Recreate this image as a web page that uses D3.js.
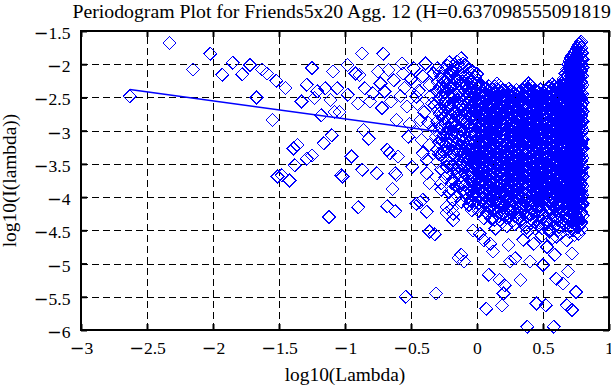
<!DOCTYPE html>
<html>
<head>
<meta charset="utf-8">
<script src="https://cdn.jsdelivr.net/npm/d3@7"></script>
<style>
  html, body { margin: 0; padding: 0; background: #fff; }
  svg { display: block; }
  text { font-family: "Liberation Serif", "Times New Roman", serif; fill: #000; }
</style>
</head>
<body>
<div id="chart"></div>
<script>
// axis ticks
var xTicks = [-3, -2.5, -2, -1.5, -1, -0.5, 0, 0.5, 1];
var yTicks = [-6, -5.5, -5, -4.5, -4, -3.5, -3, -2.5, -2, -1.5];

// least squares fit line (log10 lambda, log10 I)
var fitX = [-2.63, -0.2];
var fitY = [-2.38, -3.04];

// sparse periodogram points [log10(lambda), log10(I)]
var sparsePts = [
  [-2.63,-2.48],[-2.33,-1.68],[-2.15,-2.08],[-2.02,-1.84],[-1.93,-2.16],[-1.85,-1.98],
  [-1.78,-2.15],[-1.72,-2.01],[-1.67,-2.50],[-1.63,-2.08],[-1.59,-2.14],[-1.55,-2.84],
  [-1.52,-2.25],[-1.51,-3.69],[-1.45,-2.36],[-1.39,-3.27],[-1.36,-3.22],[-1.38,-3.52],
  [-1.29,-3.42],[-1.25,-3.37],[-1.48,-3.67],[-1.42,-3.75],[-1.33,-2.56],[-1.29,-2.31],
  [-1.25,-2.06],[-1.21,-2.41],[-1.18,-2.77],[-1.16,-3.19],[-1.23,-2.51],[-1.15,-2.36],
  [-1.11,-2.54],[-1.09,-2.11],[-1.06,-2.36],[-1.10,-3.07],[-1.08,-2.72],[-1.04,-2.72],
  [-1.03,-3.67],[-1.12,-4.30],[-1.02,-3.69],[-0.98,-2.01],[-0.98,-2.46],[-0.92,-2.14],
  [-0.95,-3.39],[-0.89,-2.16],[-0.90,-2.59],[-0.87,-1.84],[-0.85,-2.36],[-0.86,-2.99],
  [-0.82,-3.12],[-0.81,-2.56],[-0.79,-2.44],[-0.87,-3.59],[-0.90,-4.15],[-0.75,-2.11],
  [-0.71,-1.84],[-0.73,-2.29],[-0.72,-2.66],[-0.70,-2.41],[-0.76,-3.64],[-0.68,-3.29],
  [-0.66,-3.34],[-0.67,-2.09],[-0.63,-2.24],[-0.65,-2.56],[-0.61,-2.84],[-0.60,-3.39],
  [-0.62,-3.64],[-0.64,-3.88],[-0.61,-3.67],[-0.68,-4.14],[-0.62,-4.21],[-0.57,-1.99],
  [-0.56,-2.14],[-0.55,-2.36],[-0.53,-2.64],[-0.52,-3.09],[-0.49,-3.54],[-0.48,-2.06],
  [-0.47,-2.29],[-0.46,-2.49],[-0.43,-2.84],[-0.42,-3.14],[-0.41,-3.34],[-0.39,-1.99],
  [-0.38,-3.44],[-0.38,-3.64],[-0.33,-2.14],[-0.34,-2.59],[-0.31,-3.09],[-0.28,-2.34],
  [-0.27,-2.72],[-0.24,-3.29],[-0.23,-3.54],[-0.19,-2.16],[-0.18,-2.49],[-0.17,-2.94],
  [-0.15,-3.64],[-0.50,-2.22],[-0.44,-2.40],[-0.41,-2.18],[-0.36,-2.31],[-0.35,-2.47],
  [-0.32,-2.62],[-0.40,-2.72],[-0.45,-2.60],[-0.58,-2.48],[-0.51,-2.90],[-0.37,-2.88],
  [-0.33,-2.96],[-0.36,-3.22],[-0.29,-3.35],[-0.46,-3.02],
  [-0.54,-5.50],[-0.46,-4.10],[-0.41,-4.04],[-0.43,-4.08],[-0.38,-4.22],[-0.36,-3.79],
  [-0.27,-3.89],[-0.36,-4.52],[-0.32,-4.56],[-0.31,-5.45],[-0.23,-4.24],[-0.19,-4.17],
  [-0.18,-4.35],[-0.14,-4.92],[-0.19,-3.79],[-0.12,-4.87],[-0.10,-4.97],[-0.23,-4.15],
  [-0.18,-4.25],[-0.19,-3.89],[-0.08,-3.94],[-0.04,-4.20],[-0.27,-3.79],[-0.03,-4.50],
  [0.02,-4.55],[0.05,-4.65],[0.10,-4.70],[0.14,-4.47],[0.11,-4.32],[0.05,-4.32],
  [0.09,-5.17],[0.17,-5.25],[0.21,-5.33],[0.20,-5.45],[0.33,-5.25],[0.07,-5.68],
  [0.19,-5.63],[0.38,-5.95],[0.58,-5.95],[0.45,-5.60],[0.52,-5.63],[0.60,-5.23],
  [0.65,-5.30],[0.69,-5.12],[0.75,-5.43],[0.68,-5.63],[0.72,-5.70],[0.59,-4.87],
  [0.72,-4.85],[0.50,-5.02],[0.40,-4.97],[0.29,-4.92],[0.24,-4.72],[0.12,-4.82],
  [0.25,-4.97],[0.35,-4.64],[0.43,-4.70],[0.53,-4.75],[0.60,-4.60],[0.68,-4.65],
  [0.74,-4.57],[0.78,-4.35],[0.80,-4.10],
  [0.22,-4.28],[0.27,-4.36],[0.31,-4.31],[0.36,-4.42],[0.41,-4.33],[0.44,-4.47],
  [0.47,-4.38],[0.52,-4.41],[0.55,-4.52],[0.58,-4.37],[0.62,-4.45],[0.66,-4.40],
  [0.70,-4.52],[0.73,-4.46],[0.77,-4.55],[0.79,-4.48],[0.63,-4.55],[0.49,-4.58],
  [0.38,-4.52],[0.57,-4.62],[0.15,-4.25],[0.19,-4.38]
];

// dense part of the periodogram, one list of log10(I) per log10(lambda) column
var denseX = [-0.30, -0.27, -0.24, -0.21, -0.18, -0.15, -0.12, -0.09, -0.06, -0.03, 0.00,
  0.03, 0.06, 0.09, 0.12, 0.15, 0.18, 0.21, 0.24, 0.27, 0.30, 0.33, 0.36, 0.39, 0.42,
  0.45, 0.48, 0.51, 0.54, 0.57, 0.60, 0.63, 0.655, 0.68, 0.70, 0.72, 0.74, 0.76, 0.775, 0.79, 0.80];
var denseY = [
  [-2.06,-2.27,-2.41,-2.57,-2.69,-2.86,-3.02,-3.28,-3.47],
  [-2.19,-2.33,-2.48,-2.64,-2.77,-2.94,-3.13,-3.36,-3.58],
  [-2.09,-2.26,-2.44,-2.55,-2.71,-2.89,-3.04,-3.21,-3.43,-3.71],
  [-1.97,-2.16,-2.35,-2.49,-2.62,-2.81,-2.97,-3.11,-3.27,-3.49,-3.66,-3.93],
  [-2.03,-2.12,-2.31,-2.46,-2.58,-2.73,-2.86,-3.01,-3.16,-3.33,-3.52,-3.74,-4.04],
  [-1.96,-2.09,-2.24,-2.39,-2.53,-2.66,-2.77,-2.92,-3.06,-3.19,-3.35,-3.47,-3.61,-3.83,-3.98],
  [-1.91,-2.05,-2.19,-2.33,-2.47,-2.60,-2.71,-2.84,-2.97,-3.09,-3.23,-3.38,-3.50,-3.68,-3.79,-4.07],
  [-2.01,-2.14,-2.29,-2.41,-2.52,-2.65,-2.79,-2.90,-3.03,-3.14,-3.27,-3.41,-3.55,-3.64,-3.82,-3.95],
  [-2.07,-2.21,-2.34,-2.45,-2.57,-2.70,-2.82,-2.93,-3.07,-3.18,-3.31,-3.44,-3.58,-3.71,-3.87,-4.12],
  [-2.11,-2.23,-2.37,-2.50,-2.61,-2.74,-2.85,-2.98,-3.10,-3.22,-3.34,-3.46,-3.57,-3.69,-3.84,-3.97],
  [-2.15,-2.28,-2.40,-2.53,-2.64,-2.76,-2.88,-3.00,-3.12,-3.24,-3.35,-3.48,-3.60,-3.73,-3.85,-3.99,-4.16],
  [-2.31,-2.42,-2.50,-2.57,-2.68,-2.74,-2.83,-2.92,-2.98,-3.08,-3.16,-3.23,-3.33,-3.41,-3.48,-3.58,-3.65,-3.76,-3.84,-3.93,-4.05],
  [-2.36,-2.45,-2.52,-2.62,-2.71,-2.78,-2.87,-2.95,-3.04,-3.12,-3.19,-3.29,-3.36,-3.46,-3.53,-3.63,-3.70,-3.80,-3.87,-3.98,-4.10],
  [-2.33,-2.40,-2.51,-2.58,-2.67,-2.76,-2.83,-2.92,-3.01,-3.08,-3.18,-3.25,-3.34,-3.43,-3.50,-3.60,-3.67,-3.76,-3.85,-3.94,-4.03,-4.15],
  [-2.38,-2.47,-2.54,-2.64,-2.71,-2.81,-2.88,-2.97,-3.06,-3.13,-3.22,-3.31,-3.38,-3.48,-3.55,-3.64,-3.73,-3.81,-3.91,-3.99,-4.08],
  [-2.29,-2.38,-2.48,-2.55,-2.65,-2.72,-2.82,-2.89,-2.99,-3.06,-3.16,-3.23,-3.33,-3.40,-3.50,-3.57,-3.67,-3.74,-3.84,-3.91,-4.02,-4.13],
  [-2.35,-2.44,-2.51,-2.61,-2.68,-2.78,-2.85,-2.95,-3.02,-3.12,-3.19,-3.29,-3.36,-3.45,-3.53,-3.62,-3.70,-3.79,-3.87,-3.96,-4.06,-4.19],
  [-2.40,-2.47,-2.57,-2.64,-2.74,-2.81,-2.91,-2.98,-3.08,-3.15,-3.25,-3.32,-3.42,-3.49,-3.59,-3.66,-3.76,-3.83,-3.93,-4.01,-4.11],
  [-2.37,-2.46,-2.53,-2.63,-2.70,-2.80,-2.87,-2.97,-3.04,-3.14,-3.21,-3.31,-3.38,-3.48,-3.55,-3.65,-3.72,-3.82,-3.89,-3.99,-4.07,-4.18],
  [-2.42,-2.50,-2.59,-2.67,-2.76,-2.84,-2.93,-3.01,-3.10,-3.18,-3.27,-3.35,-3.44,-3.52,-3.61,-3.69,-3.78,-3.86,-3.95,-4.04,-4.14],
  [-2.39,-2.48,-2.55,-2.65,-2.72,-2.82,-2.89,-2.99,-3.06,-3.16,-3.23,-3.33,-3.40,-3.50,-3.57,-3.67,-3.74,-3.84,-3.91,-4.01,-4.09,-4.21],
  [-2.41,-2.49,-2.58,-2.66,-2.75,-2.83,-2.92,-3.00,-3.09,-3.17,-3.26,-3.34,-3.43,-3.51,-3.60,-3.68,-3.77,-3.85,-3.94,-4.03,-4.13,-4.24],
  [-2.34,-2.43,-2.51,-2.60,-2.68,-2.77,-2.85,-2.94,-3.02,-3.11,-3.19,-3.28,-3.36,-3.45,-3.53,-3.62,-3.70,-3.79,-3.87,-3.96,-4.05,-4.16],
  [-2.29,-2.38,-2.46,-2.55,-2.63,-2.72,-2.80,-2.89,-2.97,-3.06,-3.14,-3.23,-3.31,-3.40,-3.48,-3.57,-3.65,-3.74,-3.82,-3.91,-4.00,-4.10,-4.22],
  [-2.36,-2.44,-2.53,-2.61,-2.70,-2.78,-2.87,-2.95,-3.04,-3.12,-3.21,-3.29,-3.38,-3.46,-3.55,-3.63,-3.72,-3.80,-3.89,-3.97,-4.07,-4.19],
  [-2.40,-2.48,-2.57,-2.65,-2.74,-2.82,-2.91,-2.99,-3.08,-3.16,-3.25,-3.33,-3.42,-3.50,-3.59,-3.67,-3.76,-3.84,-3.93,-4.02,-4.12,-4.25],
  [-2.38,-2.47,-2.55,-2.64,-2.72,-2.81,-2.89,-2.98,-3.06,-3.15,-3.23,-3.32,-3.40,-3.49,-3.57,-3.66,-3.74,-3.83,-3.91,-4.00,-4.09,-4.20],
  [-2.43,-2.51,-2.60,-2.68,-2.77,-2.85,-2.94,-3.02,-3.11,-3.19,-3.28,-3.36,-3.45,-3.53,-3.62,-3.70,-3.79,-3.87,-3.96,-4.05,-4.15,-4.27],
  [-2.35,-2.44,-2.52,-2.61,-2.69,-2.78,-2.86,-2.95,-3.03,-3.12,-3.20,-3.29,-3.37,-3.46,-3.54,-3.63,-3.71,-3.80,-3.88,-3.97,-4.06,-4.17],
  [-2.30,-2.39,-2.47,-2.56,-2.64,-2.73,-2.81,-2.90,-2.98,-3.07,-3.15,-3.24,-3.32,-3.41,-3.49,-3.58,-3.66,-3.75,-3.83,-3.92,-4.01,-4.11,-4.23],
  [-2.37,-2.45,-2.54,-2.62,-2.71,-2.79,-2.88,-2.96,-3.05,-3.13,-3.22,-3.30,-3.39,-3.47,-3.56,-3.64,-3.73,-3.81,-3.90,-3.98,-4.08,-4.19,-4.30],
  [-2.33,-2.42,-2.50,-2.59,-2.67,-2.76,-2.84,-2.93,-3.01,-3.10,-3.18,-3.27,-3.35,-3.44,-3.52,-3.61,-3.69,-3.78,-3.86,-3.95,-4.04,-4.14,-4.26],
  [-2.22,-2.31,-2.39,-2.48,-2.56,-2.65,-2.73,-2.82,-2.90,-2.99,-3.07,-3.16,-3.24,-3.33,-3.41,-3.50,-3.58,-3.67,-3.75,-3.84,-3.93,-4.02,-4.12,-4.24],
  [-2.08,-2.17,-2.25,-2.34,-2.42,-2.51,-2.59,-2.68,-2.76,-2.85,-2.93,-3.02,-3.10,-3.19,-3.27,-3.36,-3.44,-3.53,-3.61,-3.70,-3.78,-3.87,-3.96,-4.06,-4.17,-4.31],
  [-1.95,-2.04,-2.12,-2.21,-2.29,-2.38,-2.46,-2.55,-2.63,-2.72,-2.80,-2.89,-2.97,-3.06,-3.14,-3.23,-3.31,-3.40,-3.48,-3.57,-3.65,-3.74,-3.83,-3.92,-4.01,-4.11,-4.22,-4.35],
  [-1.87,-1.96,-2.04,-2.13,-2.21,-2.30,-2.38,-2.47,-2.55,-2.64,-2.72,-2.81,-2.89,-2.98,-3.06,-3.15,-3.23,-3.32,-3.40,-3.49,-3.57,-3.66,-3.74,-3.83,-3.92,-4.02,-4.13,-4.25,-4.38],
  [-1.82,-1.90,-1.99,-2.07,-2.16,-2.24,-2.33,-2.41,-2.50,-2.58,-2.67,-2.75,-2.84,-2.92,-3.01,-3.09,-3.18,-3.26,-3.35,-3.43,-3.52,-3.60,-3.69,-3.77,-3.86,-3.95,-4.05,-4.16,-4.28,-4.40],
  [-1.76,-1.85,-1.93,-2.02,-2.10,-2.19,-2.27,-2.36,-2.44,-2.53,-2.61,-2.70,-2.78,-2.87,-2.95,-3.04,-3.12,-3.21,-3.29,-3.38,-3.46,-3.55,-3.63,-3.72,-3.81,-3.90,-3.99,-4.09,-4.20,-4.33],
  [-1.70,-1.79,-1.87,-1.96,-2.04,-2.13,-2.21,-2.30,-2.38,-2.47,-2.55,-2.64,-2.72,-2.81,-2.89,-2.98,-3.06,-3.15,-3.23,-3.32,-3.40,-3.49,-3.57,-3.66,-3.75,-3.84,-3.93,-4.03,-4.14,-4.27,-4.42],
  [-1.66,-1.75,-1.83,-1.92,-2.00,-2.09,-2.17,-2.26,-2.34,-2.43,-2.51,-2.60,-2.68,-2.77,-2.85,-2.94,-3.02,-3.11,-3.19,-3.28,-3.36,-3.45,-3.53,-3.62,-3.71,-3.80,-3.89,-3.99,-4.10,-4.23,-4.38],
  [-1.83,-1.93,-2.05,-2.18,-2.31,-2.45,-2.58,-2.71,-2.86,-2.99,-3.13,-3.27,-3.41,-3.55,-3.69,-3.83,-3.97,-4.12,-4.28]
];

// in-between columns of the dense part
var denseX2 = [-0.285, -0.255, -0.225, -0.195, -0.165, -0.135, -0.105, -0.075, -0.045, -0.015,
  0.015, 0.045, 0.075, 0.105, 0.135, 0.165, 0.195, 0.225, 0.255, 0.285, 0.315, 0.345, 0.375,
  0.405, 0.435, 0.465, 0.495, 0.525, 0.555, 0.585, 0.615, 0.645, 0.67, 0.69, 0.71, 0.73, 0.75, 0.765, 0.785];
var denseY2 = [
  [-2.13,-2.36,-2.52,-2.75,-2.93,-3.18],
  [-2.24,-2.39,-2.60,-2.82,-3.07,-3.31],
  [-2.02,-2.21,-2.38,-2.66,-2.84,-3.15,-3.55],
  [-2.10,-2.29,-2.43,-2.68,-2.91,-3.06,-3.38,-3.60],
  [-2.07,-2.20,-2.36,-2.55,-2.70,-2.92,-3.10,-3.28,-3.57],
  [-2.02,-2.16,-2.29,-2.43,-2.62,-2.79,-2.95,-3.14,-3.29,-3.55,-3.71],
  [-1.99,-2.11,-2.26,-2.37,-2.56,-2.69,-2.87,-3.00,-3.17,-3.31,-3.47,-3.72,-3.90],
  [-2.05,-2.18,-2.31,-2.49,-2.61,-2.75,-2.87,-3.00,-3.12,-3.25,-3.38,-3.52,-3.67,-3.78,-4.02],
  [-2.14,-2.27,-2.40,-2.54,-2.66,-2.78,-2.91,-3.04,-3.15,-3.28,-3.40,-3.52,-3.64,-3.77,-3.91,-4.06],
  [-2.19,-2.31,-2.44,-2.57,-2.69,-2.81,-2.93,-3.05,-3.17,-3.29,-3.41,-3.53,-3.66,-3.78,-3.92,-4.08],
  [-2.34,-2.45,-2.54,-2.61,-2.72,-2.79,-2.88,-2.95,-3.03,-3.13,-3.20,-3.28,-3.37,-3.45,-3.53,-3.61,-3.70,-3.79,-3.89,-3.97,-4.09,-4.22],
  [-2.40,-2.48,-2.57,-2.66,-2.73,-2.83,-2.90,-2.99,-3.07,-3.16,-3.24,-3.32,-3.41,-3.49,-3.58,-3.66,-3.75,-3.83,-3.92,-4.01,-4.14],
  [-2.37,-2.45,-2.55,-2.62,-2.72,-2.80,-2.87,-2.96,-3.05,-3.13,-3.21,-3.30,-3.38,-3.47,-3.55,-3.63,-3.72,-3.80,-3.90,-3.98,-4.08,-4.24],
  [-2.42,-2.50,-2.59,-2.67,-2.76,-2.84,-2.93,-3.01,-3.10,-3.18,-3.26,-3.35,-3.43,-3.52,-3.60,-3.69,-3.77,-3.86,-3.95,-4.04,-4.16],
  [-2.33,-2.43,-2.52,-2.60,-2.69,-2.77,-2.86,-2.94,-3.03,-3.11,-3.20,-3.28,-3.37,-3.45,-3.54,-3.62,-3.71,-3.79,-3.88,-3.96,-4.06,-4.19,-4.34],
  [-2.32,-2.40,-2.49,-2.58,-2.66,-2.75,-2.83,-2.92,-3.00,-3.09,-3.17,-3.26,-3.34,-3.43,-3.51,-3.60,-3.68,-3.77,-3.85,-3.94,-4.03,-4.15,-4.29],
  [-2.39,-2.48,-2.56,-2.65,-2.73,-2.82,-2.90,-2.99,-3.07,-3.16,-3.24,-3.33,-3.41,-3.50,-3.58,-3.67,-3.75,-3.84,-3.92,-4.02,-4.13,-4.26],
  [-2.43,-2.51,-2.60,-2.68,-2.77,-2.85,-2.94,-3.02,-3.11,-3.19,-3.28,-3.36,-3.45,-3.53,-3.62,-3.70,-3.79,-3.87,-3.96,-4.05,-4.16,-4.31,-4.44],
  [-2.41,-2.49,-2.58,-2.66,-2.75,-2.83,-2.92,-3.00,-3.09,-3.17,-3.26,-3.34,-3.43,-3.51,-3.60,-3.68,-3.77,-3.85,-3.94,-4.03,-4.12,-4.24],
  [-2.44,-2.53,-2.61,-2.70,-2.78,-2.87,-2.95,-3.04,-3.12,-3.21,-3.29,-3.38,-3.46,-3.55,-3.63,-3.72,-3.80,-3.89,-3.97,-4.06,-4.17,-4.29,-4.41],
  [-2.43,-2.52,-2.60,-2.69,-2.77,-2.86,-2.94,-3.03,-3.11,-3.20,-3.28,-3.37,-3.45,-3.54,-3.62,-3.71,-3.79,-3.88,-3.96,-4.06,-4.18,-4.33],
  [-2.38,-2.46,-2.55,-2.63,-2.72,-2.80,-2.89,-2.97,-3.06,-3.14,-3.23,-3.31,-3.40,-3.48,-3.57,-3.65,-3.74,-3.82,-3.91,-4.00,-4.10,-4.21,-4.36],
  [-2.33,-2.41,-2.50,-2.58,-2.67,-2.75,-2.84,-2.92,-3.01,-3.09,-3.18,-3.26,-3.35,-3.43,-3.52,-3.60,-3.69,-3.77,-3.86,-3.95,-4.04,-4.15,-4.28,-4.46],
  [-2.32,-2.40,-2.49,-2.57,-2.66,-2.74,-2.83,-2.91,-3.00,-3.08,-3.17,-3.25,-3.34,-3.42,-3.51,-3.59,-3.68,-3.76,-3.85,-3.94,-4.03,-4.14,-4.26,-4.39],
  [-2.39,-2.47,-2.56,-2.64,-2.73,-2.81,-2.90,-2.98,-3.07,-3.15,-3.24,-3.32,-3.41,-3.49,-3.58,-3.66,-3.75,-3.83,-3.92,-4.01,-4.11,-4.23,-4.37],
  [-2.42,-2.51,-2.59,-2.68,-2.76,-2.85,-2.93,-3.02,-3.10,-3.19,-3.27,-3.36,-3.44,-3.53,-3.61,-3.70,-3.78,-3.87,-3.95,-4.04,-4.14,-4.28,-4.43],
  [-2.45,-2.53,-2.62,-2.70,-2.79,-2.87,-2.96,-3.04,-3.13,-3.21,-3.30,-3.38,-3.47,-3.55,-3.64,-3.72,-3.81,-3.89,-3.98,-4.07,-4.18,-4.31,-4.47],
  [-2.40,-2.48,-2.57,-2.65,-2.74,-2.82,-2.91,-2.99,-3.08,-3.16,-3.25,-3.33,-3.42,-3.50,-3.59,-3.67,-3.76,-3.84,-3.93,-4.02,-4.12,-4.24,-4.38],
  [-2.34,-2.42,-2.51,-2.59,-2.68,-2.76,-2.85,-2.93,-3.02,-3.10,-3.19,-3.27,-3.36,-3.44,-3.53,-3.61,-3.70,-3.78,-3.87,-3.96,-4.06,-4.18,-4.33,-4.49],
  [-2.34,-2.43,-2.51,-2.60,-2.68,-2.77,-2.85,-2.94,-3.02,-3.11,-3.19,-3.28,-3.36,-3.45,-3.53,-3.62,-3.70,-3.79,-3.87,-3.96,-4.05,-4.16,-4.29,-4.44],
  [-2.36,-2.44,-2.53,-2.61,-2.70,-2.78,-2.87,-2.95,-3.04,-3.12,-3.21,-3.29,-3.38,-3.46,-3.55,-3.63,-3.72,-3.80,-3.89,-3.98,-4.08,-4.20,-4.35,-4.50],
  [-2.28,-2.37,-2.45,-2.54,-2.62,-2.71,-2.79,-2.88,-2.96,-3.05,-3.13,-3.22,-3.30,-3.39,-3.47,-3.56,-3.64,-3.73,-3.81,-3.90,-3.99,-4.09,-4.21,-4.36],
  [-2.14,-2.22,-2.31,-2.39,-2.48,-2.56,-2.65,-2.73,-2.82,-2.90,-2.99,-3.07,-3.16,-3.24,-3.33,-3.41,-3.50,-3.58,-3.67,-3.75,-3.84,-3.93,-4.03,-4.14,-4.27,-4.43],
  [-2.00,-2.09,-2.17,-2.26,-2.34,-2.43,-2.51,-2.60,-2.68,-2.77,-2.85,-2.94,-3.02,-3.11,-3.19,-3.28,-3.36,-3.45,-3.53,-3.62,-3.70,-3.79,-3.88,-3.98,-4.08,-4.19,-4.32,-4.47],
  [-1.91,-2.00,-2.08,-2.17,-2.25,-2.34,-2.42,-2.51,-2.59,-2.68,-2.76,-2.85,-2.93,-3.02,-3.10,-3.19,-3.27,-3.36,-3.44,-3.53,-3.61,-3.70,-3.79,-3.88,-3.97,-4.07,-4.18,-4.30,-4.44],
  [-1.85,-1.94,-2.02,-2.11,-2.19,-2.28,-2.36,-2.45,-2.53,-2.62,-2.70,-2.79,-2.87,-2.96,-3.04,-3.13,-3.21,-3.30,-3.38,-3.47,-3.55,-3.64,-3.72,-3.81,-3.90,-4.00,-4.11,-4.22,-4.35,-4.50],
  [-1.79,-1.88,-1.96,-2.05,-2.13,-2.22,-2.30,-2.39,-2.47,-2.56,-2.64,-2.73,-2.81,-2.90,-2.98,-3.07,-3.15,-3.24,-3.32,-3.41,-3.49,-3.58,-3.66,-3.75,-3.84,-3.94,-4.04,-4.15,-4.27,-4.41],
  [-1.73,-1.82,-1.90,-1.99,-2.07,-2.16,-2.24,-2.33,-2.41,-2.50,-2.58,-2.67,-2.75,-2.84,-2.92,-3.01,-3.09,-3.18,-3.26,-3.35,-3.43,-3.52,-3.60,-3.69,-3.78,-3.87,-3.97,-4.07,-4.18,-4.31,-4.46],
  [-1.68,-1.77,-1.85,-1.94,-2.02,-2.11,-2.19,-2.28,-2.36,-2.45,-2.53,-2.62,-2.70,-2.79,-2.87,-2.96,-3.04,-3.13,-3.21,-3.30,-3.38,-3.47,-3.55,-3.64,-3.73,-3.82,-3.92,-4.02,-4.13,-4.25,-4.40]
];

var margin = {top: 31, right: 2, bottom: 55, left: 81};
var width = 611 - margin.left - margin.right;
var height = 385 - margin.top - margin.bottom;

var svg = d3.select("#chart").append("svg")
    .attr("width", 611)
    .attr("height", 385);

var g = svg.append("g")
    .attr("transform", "translate(" + margin.left + "," + margin.top + ")");

var x = d3.scaleLinear().domain([-3, 1]).range([0, width]);
var y = d3.scaleLinear().domain([-6, -1.5]).range([height, 0]);

// dashed grid
g.append("g")
    .attr("class", "grid-x")
    .attr("transform", "translate(0," + height + ")")
    .call(d3.axisBottom(x).tickValues(xTicks.slice(1, -1)).tickSize(-height).tickFormat(""));
g.append("g")
    .attr("class", "grid-y")
    .call(d3.axisLeft(y).tickValues(yTicks.slice(1, -1)).tickSize(-width).tickFormat(""));
g.selectAll(".grid-x .domain, .grid-y .domain").remove();
g.selectAll(".grid-x line, .grid-y line")
    .attr("stroke", "#000")
    .attr("stroke-width", 1)
    .attr("stroke-dasharray", "7,4")
    .attr("shape-rendering", "crispEdges");

// flatten data into points
var points = sparsePts.map(function(p) { return {lx: p[0], ly: p[1]}; });
function addColumns(xs, ys) {
  xs.forEach(function(cx, i) {
    ys[i].forEach(function(v) { points.push({lx: cx, ly: v}); });
  });
}
addColumns(denseX, denseY);
addColumns(denseX2, denseY2);

var diamond = "M0,-6.5L6.5,0L0,6.5L-6.5,0Z";
g.append("g")
  .selectAll("path")
  .data(points)
  .enter()
  .append("path")
    .attr("d", diamond)
    .attr("transform", function(d) { return "translate(" + x(d.lx) + "," + y(d.ly) + ")"; })
    .attr("fill", "none")
    .attr("stroke", "#0000ff")
    .attr("stroke-width", 1)
    .attr("shape-rendering", "crispEdges");

// fit line
var fitLine = d3.line()
    .x(function(d) { return x(d[0]); })
    .y(function(d) { return y(d[1]); });
g.append("path")
    .datum(fitX.map(function(v, i) { return [v, fitY[i]]; }))
    .attr("d", fitLine)
    .attr("fill", "none")
    .attr("stroke", "#0000ff")
    .attr("stroke-width", 1.5);

// inward ticks on all four sides
var tickLen = 6;
var axB = g.append("g").attr("transform", "translate(0," + height + ")")
    .call(d3.axisBottom(x).tickValues(xTicks).tickSizeInner(-tickLen).tickSizeOuter(0));
var axT = g.append("g")
    .call(d3.axisTop(x).tickValues(xTicks).tickSizeInner(-tickLen).tickSizeOuter(0).tickFormat(""));
var axL = g.append("g")
    .call(d3.axisLeft(y).tickValues(yTicks).tickSizeInner(-tickLen).tickSizeOuter(0));
var axR = g.append("g").attr("transform", "translate(" + width + ",0)")
    .call(d3.axisRight(y).tickValues(yTicks).tickSizeInner(-tickLen).tickSizeOuter(0).tickFormat(""));

[axB, axT, axL, axR].forEach(function(a) {
  a.select(".domain").remove();
  a.selectAll("line").attr("stroke", "#000").attr("stroke-width", 2);
});

// tick labels with a wide minus sign
function signLabel(sel) {
  sel.each(function(d) {
    var t = d3.select(this);
    t.text(null);
    if (d < 0) t.append("tspan").style("font-family", "'DejaVu Serif'").text("\u2212");
    t.append("tspan").text(String(Math.abs(d)));
  });
}
axB.selectAll("text")
    .attr("y", 24).attr("dy", null)
    .attr("font-size", "17.6px")
    .style("font-family", "'Liberation Serif', serif")
    .call(signLabel);
axL.selectAll("text")
    .attr("x", -10.5).attr("dy", "7.5px")
    .attr("font-size", "17.6px")
    .style("font-family", "'Liberation Serif', serif")
    .call(signLabel);

// box
g.append("rect")
    .attr("width", width)
    .attr("height", height)
    .attr("fill", "none")
    .attr("stroke", "#000")
    .attr("stroke-width", 2);

// labels
svg.append("text")
    .attr("x", margin.left + width / 2)
    .attr("y", 18)
    .attr("text-anchor", "middle")
    .attr("font-size", "19.8px")
    .text("Periodogram Plot for Friends5x20 Agg. 12 (H=0.637098555091819)");

svg.append("text")
    .attr("x", margin.left + width / 2)
    .attr("y", 381)
    .attr("text-anchor", "middle")
    .attr("font-size", "19.4px")
    .text("log10(Lambda)");

svg.append("text")
    .attr("transform", "translate(15.5," + (margin.top + height / 2) + ") rotate(-90)")
    .attr("text-anchor", "middle")
    .attr("font-size", "19.4px")
    .text("log10(I(lambda))");
</script>
</body>
</html>
